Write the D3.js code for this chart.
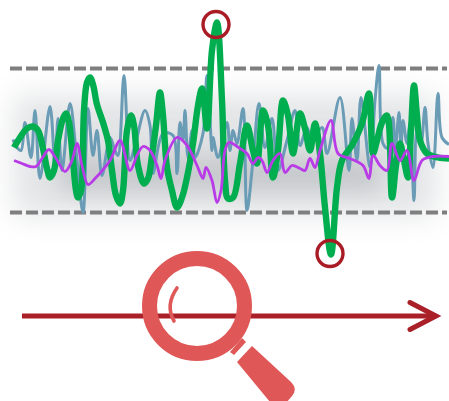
<!DOCTYPE html>
<html><head><meta charset="utf-8"><script src="https://cdn.jsdelivr.net/npm/d3@7"></script>
<style>html,body{margin:0;padding:0;background:#fff;overflow:hidden}svg{display:block}</style></head>
<body><svg id="c" width="449" height="401"></svg>
<script>
const greenT=[14,20,27,33,38,43,47,50,54,58,63,66,69,73,76,78,81,84,87,90,93,97,103,108,112,116,120,123,127,131,134,138,144,148,152,156,160,163,167,172,177,182,187,193,198,202,207,212,217,222,225,228,233,240,247,253,257,263,268,273,278,283,288,293,300,305,310,315,320,325,331,337,342,353,362,369,373,377,382,387,392,396,400,404,408,411,414,417,420,427,438,449];
const greenV=[-7,3,12,14,10,-8,-28,-37,-30,0,22,27,18,-20,-50,-57,-50,30,58,63,56,36,18,0,-30,-55,-63,-50,10,25,15,-25,-43,-38,-15,15,48,25,-27,-50,-67,-57,-37,-3,35,52,12,90,118,40,-40,-58,-57,-23,15,-10,-23,30,15,-37,-10,40,25,-13,27,12,-10,17,-13,-67,-114,-47,-20,-3,17,47,-13,0,18,25,-57,-25,-3,-20,-37,10,55,25,0,-13,-17,-18];
const purpleT=[14,22,30,36,42,49,56,65,72,77,82,88,95,110,120,130,137,143,150,157,161,165,177,187,197,203,206,212,217,221,225,229,240,247,253,258,262,267,273,280,285,292,300,305,310,315,320,331,338,350,363,369,373,380,387,392,400,407,414,422,433,449];
const purpleV=[-20,-23,-26,-26,-18,-9,-18,-31,-20,-3,-25,-44,-38,-20,0,-30,-15,-6,-10,-25,-38,-20,3,-5,-25,-38,-27,-40,-62,-50,-10,-2,-8,-13,-23,-17,-20,-32,-20,-13,-32,-25,-28,-30,-18,-27,-10,20,-13,-18,-25,-38,-15,-25,-30,-3,-20,-10,-40,-20,-16,-16];
const blueT=[13,17,21,25,31,35,40,50,55,58,62,70,76,83,88,93,97,102,110,115,118,124,130,135,145,150,153,163,173,177,180,183,185,188,192,195,203,207,212,213,218,227,230,233,237,243,247,253,259,265,272,278,287,295,300,307,312,322,327,340,349,352,357,361,370,375,379,383,388,393,395,399,401,403,407,410,414,417,421,425,428,433,438,442,449];
const blueV=[1,-7,-10,18,-17,30,-38,34,-25,22,-30,37,-10,-72,32,-15,10,-35,3,-10,-15,65,-20,-5,30,15,-33,7,5,-33,18,0,30,-17,10,-17,7,65,-10,3,-17,18,-10,10,-3,32,-70,-20,37,-7,22,-30,0,30,-5,13,0,13,-13,43,-30,22,-20,43,-27,40,75,-3,-8,23,-13,28,-7,20,-3,17,-60,10,-3,33,-3,-27,47,3,-4];
const limitV=[72,-72];
const bandHi=[45,-15], bandLo=[-75,-52];
const xS=d3.scaleLinear().domain([0,449]).range([0,449]);
const yS=d3.scaleLinear().domain([-72,72]).range([212.5,68.5]);
const svg=d3.select("#c");
const defs=svg.append("defs");
const blur=(id,s)=>defs.append("filter").attr("id",id).attr("filterUnits","userSpaceOnUse").attr("x",-60).attr("y",-60).attr("width",570).attr("height",520).append("feGaussianBlur").attr("stdDeviation",s);
blur("wide",15);blur("core",11);blur("soft",.45);
[["wide",0,"#b4b8bc",.38,14,422],["core",1,"#7c8287",.26,60,320]].forEach(([f,k,col,op,x0,w])=>{
  svg.append("rect").attr("filter",`url(#${f})`).attr("x",xS(x0)).attr("width",w)
    .attr("y",yS(bandHi[k])).attr("height",yS(bandLo[k])-yS(bandHi[k])).attr("fill",col).attr("opacity",op);
});
const chart=svg.append("g").attr("filter","url(#soft)");
chart.selectAll("line.lim").data(limitV).join("line").attr("class","lim").attr("x1",10).attr("x2",447)
  .attr("y1",d=>yS(d)).attr("y2",d=>yS(d)).attr("stroke","#7f7f7f").attr("stroke-width",4).attr("stroke-dasharray","12 4");
const line=(T,V)=>d3.line().x((d,i)=>xS(T[i])).y(d=>yS(d)).curve(d3.curveCatmullRom.alpha(.5))(V);
chart.append("path").attr("d",line(blueT,blueV)).attr("fill","none").attr("stroke","#6a9cb6").attr("stroke-width",3).attr("stroke-linejoin","round");
chart.append("path").attr("d",line(greenT,greenV)).attr("fill","none").attr("stroke","#00ad50").attr("stroke-width",6.4).attr("stroke-linejoin","round");
chart.append("path").attr("d",line(purpleT,purpleV)).attr("fill","none").attr("stroke","#b93be8").attr("stroke-width",2.8).attr("stroke-linejoin","round");
const outIdx=[greenV.indexOf(d3.max(greenV)),greenV.indexOf(d3.min(greenV))];
chart.selectAll("circle.o").data(outIdx).join("circle").attr("class","o").attr("cx",i=>xS(greenT[i])-1).attr("cy",i=>yS(greenV[i])+(i===outIdx[0]?2:-1))
  .attr("r",13).attr("fill","none").attr("stroke","#a91e27").attr("stroke-width",3.4);
const red="#a92028";
svg.append("line").attr("x1",22).attr("x2",436).attr("y1",316).attr("y2",316).attr("stroke",red).attr("stroke-width",5);
svg.append("path").attr("d","M410,302.5L436,316L410,329.5").attr("fill","none").attr("stroke",red).attr("stroke-width",5).attr("stroke-linecap","round");
const mg="#e05757";
svg.append("circle").attr("cx",197).attr("cy",306).attr("r",47.5).attr("fill","none").attr("stroke",mg).attr("stroke-width",15);
svg.append("path").attr("d","M230,352L242,338L246,342L234,355Z").attr("fill",mg);
svg.append("path").attr("d","M237,362L252,346L291,382Q298,389 292,396L280,410L270,402Z").attr("fill",mg);
svg.append("path").attr("d","M177,288Q165,305 174,321").attr("fill","none").attr("stroke",mg).attr("stroke-width",3.6).attr("stroke-linecap","round");
</script></body></html>
